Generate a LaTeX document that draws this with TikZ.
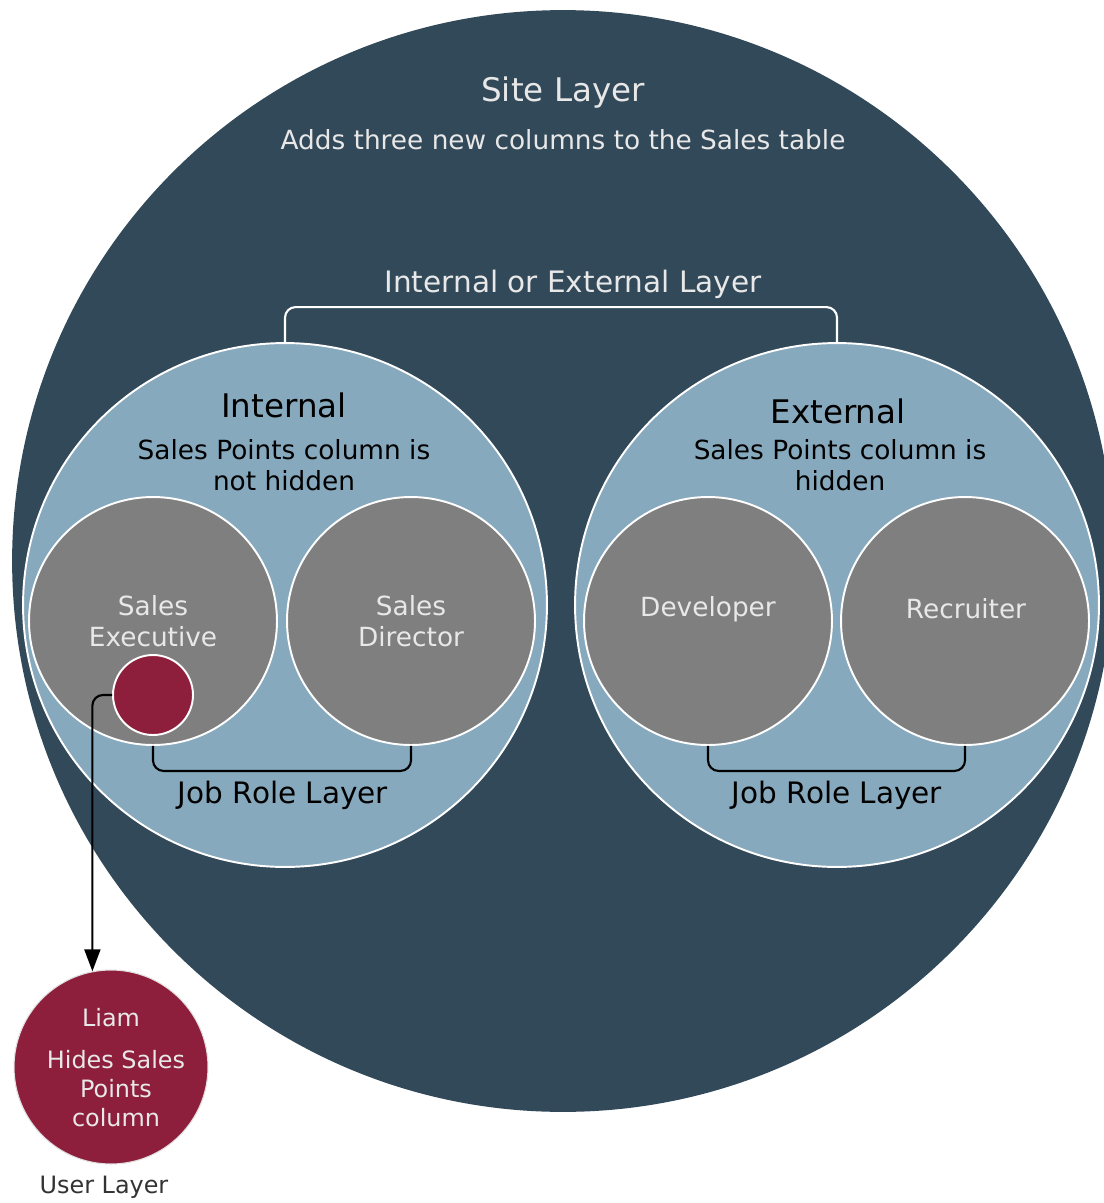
\documentclass[tikz,border=0pt]{standalone}
\usepackage{fontspec}
\setmainfont{DejaVu Sans}
\usepackage{xcolor}
\usetikzlibrary{arrows.meta, positioning}

\definecolor{sitecol}{RGB}{50,73,89}
\definecolor{groupcol}{RGB}{135,169,190}
\definecolor{rolecol}{RGB}{127,127,127}
\definecolor{usercol}{RGB}{142,31,60}
\definecolor{paletxt}{RGB}{232,232,232}

\begin{document}
\begin{tikzpicture}[x=0.02cm, y=-0.02cm,
    layer/.style={circle, draw=white, line width=1.1pt, inner sep=0pt},
    bigtxt/.style={font=\fontsize{18.5}{22}\selectfont},
    midtxt/.style={font=\fontsize{16.8}{20}\selectfont},
    txt/.style={font=\fontsize{15}{17.6}\selectfont, align=center},
    smalltxt/.style={font=\fontsize{13.6}{16.5}\selectfont, align=center},
    brk/.style={line width=1.2pt, rounded corners=6pt}]
\fill[white] (0,0) rectangle (1104,1203);
\useasboundingbox (0,0) rectangle (1104,1203);
% layers
\node[layer, draw=none, fill=sitecol, minimum size=22.04cm] (site) at (563,561) {};
\node[layer, fill=groupcol, minimum size=10.48cm] (int) at (285,605) {};
\node[layer, fill=groupcol, minimum size=10.48cm] (ext) at (837,605) {};
\node[layer, fill=rolecol, minimum size=4.96cm] (exec) at (153,621) {};
\node[layer, fill=rolecol, minimum size=4.96cm] (dir) at (411,621) {};
\node[layer, fill=rolecol, minimum size=4.96cm] (dev) at (708,621) {};
\node[layer, fill=rolecol, minimum size=4.96cm] (rec) at (965,621) {};
\node[layer, fill=usercol, minimum size=1.6cm] (user) at (153,695) {};
\node[layer, draw=gray!25, line width=0.6pt, fill=usercol, minimum size=3.88cm] (liam) at (111,1067) {};
% texts
\node[bigtxt, text=paletxt] (sitename) at (563,93) {Site Layer};
\node[txt, text=paletxt] (sitedesc) at (563,140) {Adds three new columns to the Sales table};
\node[midtxt, text=paletxt] (grpname) at (573,284) {Internal or External Layer};
\node[bigtxt] (intname) at (284,405) {Internal};
\node[txt] (intdesc) at (284,465) {Sales Points column is\\not hidden};
\node[bigtxt] (extname) at (838,411) {External};
\node[txt] (extdesc) at (840,465) {Sales Points column is\\hidden};
\node[txt, text=paletxt] (execname) at (153,621) {Sales\\Executive};
\node[txt, text=paletxt] (dirname) at (411,621) {Sales\\Director};
\node[txt, text=paletxt] (devname) at (708,609) {Developer};
\node[txt, text=paletxt] (recname) at (966,609) {Recruiter};
\node[midtxt] (introle) at (283,795) {Job Role Layer};
\node[midtxt] (extrole) at (837,795) {Job Role Layer};
\node[smalltxt, text=paletxt] (liamname) at (111,1018) {Liam};
\node[smalltxt, text=paletxt] (liamdesc) at (116,1089) {Hides Sales\\Points\\column};
\node[smalltxt, text=black!80] (userlayer) at (104,1187) {User Layer};
% connectors
\draw[brk, white] (int.north) -- ++(0,-35) -| (ext.north);
\draw[brk, black] (exec.south) -- ++(0,25) -| (dir.south);
\draw[brk, black] (dev.south) -- ++(0,25) -| (rec.south);
\draw[brk, black, -{Triangle[length=0.44cm, width=0.32cm]}] (user.west) -| (liam.101);
\end{tikzpicture}
\end{document}
